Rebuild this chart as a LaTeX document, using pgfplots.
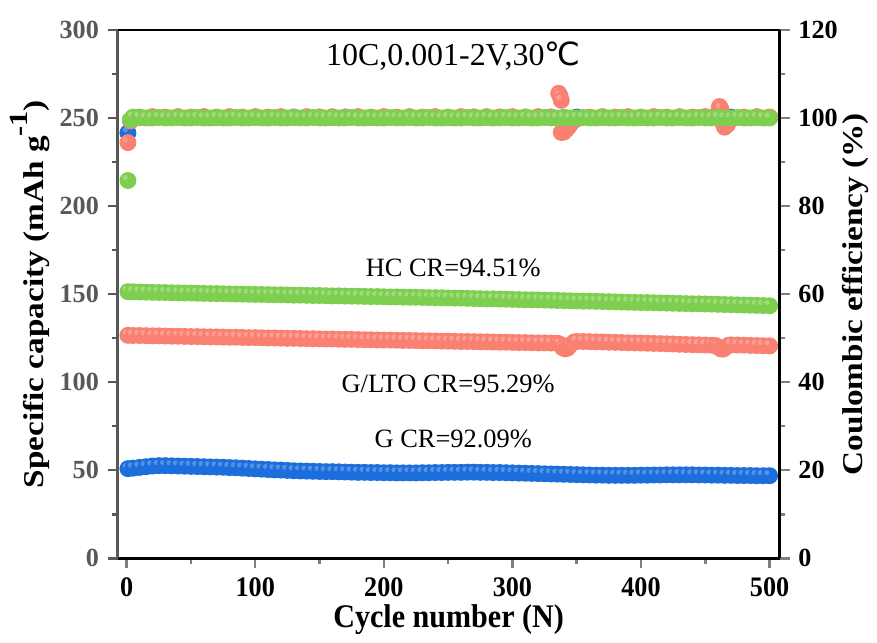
\documentclass[border=0pt]{standalone}
\usepackage{fontspec}
\setmainfont{Liberation Serif}
\newfontfamily\symfont{DejaVu Sans}
\usepackage{graphicx}
\usepackage{pgfplots}
\pgfplotsset{compat=1.18}

\definecolor{cG}{RGB}{28,110,220}
\definecolor{cLTO}{RGB}{250,128,114}
\definecolor{cHC}{RGB}{126,207,80}
\definecolor{cgrey}{RGB}{88,88,88}

% shaded-looking ball: flat disc with a soft white highlight
\pgfdeclareplotmark{ball}{%
  \pgfpathcircle{\pgfpointorigin}{\pgfplotmarksize}%
  \pgfusepathqfill
  \begin{pgfscope}
  \color{white}%
  \pgfsetfillopacity{0.25}%
  \pgfpathcircle{\pgfpoint{-0.32*\pgfplotmarksize}{0.36*\pgfplotmarksize}}{0.3*\pgfplotmarksize}%
  \pgfusepathqfill
  \end{pgfscope}
}

\begin{document}
\begin{tikzpicture}
\pgfplotsset{
  common/.style={
    scale only axis, width=265.6pt, height=212pt,
    xmin=-7, xmax=507.8, clip=false,
    tick align=outside,
    /pgf/number format/assume math mode=true,
    axis line style={line width=1pt},
    tick style={line width=1pt},
    major tick length=4pt, minor tick length=2.2pt,
    ticklabel style={font=\bfseries\fontsize{10.5}{12}\selectfont},
    label style={font=\bfseries\fontsize{11.5}{13}\selectfont},
  },
  ball/.style={only marks, mark=ball, mark size=3.4pt,
    mark options={fill=#1, draw=none}},
}

% ---------- capacity (left axis) ----------
\begin{axis}[common,
  ymin=0, ymax=300, ytick={0,50,...,300}, minor y tick num=1,
  xtick={0,100,...,500}, minor x tick num=1,
  axis x line*=bottom, axis y line*=left,
  y axis line style={cgrey}, every y tick/.append style={cgrey},
  yticklabel style={cgrey},
  xticklabel style={yscale=1.08},
  xlabel={\scalebox{1.05}[1.15]{Cycle number (N)}},
  ylabel={\scalebox{1.16}[1]{Specific capacity (mAh g\raisebox{0.55em}{\fontsize{10.5}{10}\selectfont-1})}},
  xlabel shift=-4pt, ylabel shift=-3pt,
]
% G
\addplot[ball=cG] coordinates {
 (1,50.9) (5,51.2) (10,51.6) (15,52.0) (20,52.4) (25,52.6) (30,52.6) (35,52.5)
 (40,52.4) (45,52.3) (50,52.2) (55,52.1) (60,52.0) (65,51.9) (70,51.8) (75,51.7)
 (80,51.5) (85,51.4) (90,51.2) (95,51.0) (100,50.8) (105,50.6) (110,50.4) (115,50.2)
 (120,50.1) (125,49.9) (130,49.7) (135,49.6) (140,49.5) (145,49.4) (150,49.3) (155,49.2)
 (160,49.2) (165,49.1) (170,49.0) (175,48.9) (180,48.8) (185,48.8) (190,48.7) (195,48.7)
 (200,48.6) (205,48.6) (210,48.5) (215,48.5) (220,48.5) (225,48.5) (230,48.6) (235,48.6)
 (240,48.7) (245,48.7) (250,48.8) (255,48.8) (260,48.8) (265,48.9) (270,48.9) (275,48.8)
 (280,48.8) (285,48.7) (290,48.7) (295,48.6) (300,48.5) (305,48.4) (310,48.3) (315,48.2)
 (320,48.1) (325,48.0) (330,47.9) (335,47.8) (340,47.7) (345,47.6) (350,47.5) (355,47.4)
 (360,47.3) (365,47.2) (370,47.2) (375,47.1) (380,47.1) (385,47.1) (390,47.1) (395,47.1)
 (400,47.2) (405,47.2) (410,47.3) (415,47.3) (420,47.4) (425,47.4) (430,47.4) (435,47.4)
 (440,47.4) (445,47.3) (450,47.3) (455,47.2) (460,47.2) (465,47.1) (470,47.1) (475,47.0)
 (480,47.0) (485,47.0) (490,46.9) (495,46.9) (500,46.9)
};
% G/LTO
\addplot[ball=cLTO] coordinates {
 (1,126.6) (5,126.5) (10,126.5) (15,126.4) (20,126.3) (25,126.3) (30,126.2) (35,126.1)
 (40,126.1) (45,126.0) (50,125.9) (55,125.9) (60,125.8) (65,125.7) (70,125.7) (75,125.6)
 (80,125.5) (85,125.5) (90,125.4) (95,125.3) (100,125.3) (105,125.2) (110,125.1) (115,125.1)
 (120,125.0) (125,124.9) (130,124.9) (135,124.8) (140,124.7) (145,124.7) (150,124.6) (155,124.5)
 (160,124.5) (165,124.4) (170,124.3) (175,124.3) (180,124.2) (185,124.1) (190,124.1) (195,124.0)
 (200,123.9) (205,123.9) (210,123.8) (215,123.7) (220,123.7) (225,123.6) (230,123.5) (235,123.5)
 (240,123.4) (245,123.3) (250,123.3) (255,123.2) (260,123.1) (265,123.1) (270,123.0) (275,122.9)
 (280,122.9) (285,122.8) (290,122.7) (295,122.7) (300,122.6) (305,122.5) (310,122.5) (315,122.4)
 (320,122.3) (325,122.3) (330,122.2) (335,122.1) (337,121.5) (339,119.6) (341,118.9) (343,119.4)
 (345,121.2) (348,122.8) (350,123.1) (355,123.1) (360,123.0) (365,122.9) (370,122.8) (375,122.7)
 (380,122.6) (385,122.5) (390,122.4) (395,122.3) (400,122.2) (405,122.1) (410,122.0) (415,121.9)
 (420,121.8) (425,121.7) (430,121.5) (435,121.4) (440,121.3) (445,121.2) (450,121.1) (455,121.0)
 (458,120.8) (460,119.9) (462,118.9) (464,118.8) (466,119.9) (468,120.9) (470,121.2) (475,121.1)
 (480,121.0) (485,120.9) (490,120.8) (495,120.7) (500,120.6)
};
% HC
\addplot[ball=cHC] coordinates {
 (1,151.4) (5,151.3) (10,151.2) (15,151.1) (20,151.0) (25,150.9) (30,150.9) (35,150.8)
 (40,150.7) (45,150.6) (50,150.6) (55,150.5) (60,150.4) (65,150.3) (70,150.3) (75,150.2)
 (80,150.1) (85,150.0) (90,150.0) (95,149.9) (100,149.8) (105,149.8) (110,149.7) (115,149.6)
 (120,149.6) (125,149.5) (130,149.4) (135,149.4) (140,149.3) (145,149.2) (150,149.2) (155,149.1)
 (160,149.0) (165,149.0) (170,148.9) (175,148.8) (180,148.8) (185,148.7) (190,148.6) (195,148.6)
 (200,148.5) (205,148.4) (210,148.4) (215,148.3) (220,148.2) (225,148.2) (230,148.1) (235,148.0)
 (240,148.0) (245,147.9) (250,147.8) (255,147.7) (260,147.7) (265,147.6) (270,147.5) (275,147.4)
 (280,147.3) (285,147.3) (290,147.2) (295,147.1) (300,147.0) (305,146.9) (310,146.8) (315,146.8)
 (320,146.7) (325,146.6) (330,146.5) (335,146.4) (340,146.3) (345,146.2) (350,146.1) (355,146.0)
 (360,146.0) (365,145.9) (370,145.8) (375,145.7) (380,145.6) (385,145.5) (390,145.4) (395,145.3)
 (400,145.2) (405,145.2) (410,145.1) (415,145.0) (420,144.9) (425,144.8) (430,144.7) (435,144.6)
 (440,144.5) (445,144.5) (450,144.4) (455,144.3) (460,144.2) (465,144.1) (470,144.0) (475,143.9)
 (480,143.8) (485,143.7) (490,143.6) (495,143.5) (500,143.4)
};
\node[font=\fontsize{12.8}{14}\selectfont] at (axis cs:254,285) {10C,0.001-2V,30{\symfont ℃}};
\node[font=\fontsize{10.6}{13}\selectfont] at (axis cs:254,165) {HC CR=94.51\%};
\node[font=\fontsize{10.6}{13}\selectfont] at (axis cs:250,99) {G/LTO CR=95.29\%};
\node[font=\fontsize{10.6}{13}\selectfont] at (axis cs:254,68) {G CR=92.09\%};
\end{axis}

% ---------- coulombic efficiency (right axis) ----------
\begin{axis}[common,
  ymin=0, ymax=120, ytick={0,20,...,120}, minor y tick num=1,
  axis y line*=right, axis x line*=top, xtick=\empty,
  ylabel={\scalebox{1.16}[1]{Coulombic efficiency (\%)}},
  ylabel shift=-5pt,
]
% G
\addplot[ball=cG] coordinates {
 (1,96.6) (3,99.5) (10,100.1) (20,100.2) (30,100.1) (40,100.2) (50,100.1) (60,100.2)
 (70,100.1) (80,100.2) (90,100.1) (100,100.2) (110,100.1) (120,100.2) (130,100.2) (140,100.1)
 (150,100.2) (160,100.1) (170,100.2) (180,100.2) (190,100.1) (200,100.2) (210,100.1) (220,100.2)
 (230,100.1) (240,100.2) (250,100.1) (260,100.2) (270,100.2) (280,100.1) (290,100.2) (300,100.1)
 (310,100.2) (320,100.1) (330,100.2) (340,100.1) (350,100.2) (360,100.1) (370,100.2) (380,100.1)
 (390,100.2) (400,100.1) (410,100.2) (420,100.1) (430,100.2) (440,100.1) (450,100.2) (460,100.1)
 (470,100.2) (480,100.1) (490,100.2) (500,100.1)
};
% G/LTO
\addplot[ball=cLTO] coordinates {
 (1,94.4) (3,99.3) (10,100.2) (20,100.3) (30,100.2) (40,100.3) (50,100.2) (60,100.3)
 (70,100.2) (80,100.3) (90,100.2) (100,100.3) (110,100.2) (120,100.3) (130,100.2) (140,100.3)
 (150,100.2) (160,100.3) (170,100.2) (180,100.3) (190,100.2) (200,100.3) (210,100.2) (220,100.3)
 (230,100.2) (240,100.3) (250,100.2) (260,100.3) (270,100.2) (280,100.3) (290,100.2) (300,100.3)
 (310,100.2) (320,100.3) (330,100.2) (336,105.6) (337,105.0) (338,104.0)
 (338,96.7) (340,96.8) (342,97.4) (344,98.1) (346,98.9) (350,99.8)
 (360,100.2) (370,100.3) (380,100.2) (390,100.3) (400,100.2) (410,100.3) (420,100.2) (430,100.3)
 (440,100.2) (450,100.3) (458,100.6) (461,102.6) (462,102.1)
 (464,98.6) (465,97.9) (467,98.4) (470,99.6) (480,100.2) (490,100.3) (500,100.2)
};
% HC
\addplot[ball=cHC] coordinates {
 (1,85.8) (3,99.6) (5,100.2) (10,100.1) (15,100.0) (20,100.0) (25,100.1) (30,100.0) (35,100.0)
 (40,100.1) (45,100.0) (50,100.0) (55,100.1) (60,100.0) (65,100.0) (70,100.1) (75,100.0)
 (80,100.0) (85,100.1) (90,100.0) (95,100.0) (100,100.1) (105,100.0) (110,100.0) (115,100.1)
 (120,100.0) (125,100.0) (130,100.1) (135,100.0) (140,100.0) (145,100.1) (150,100.0) (155,100.0)
 (160,100.1) (165,100.0) (170,100.0) (175,100.1) (180,100.0) (185,100.0) (190,100.1) (195,100.0)
 (200,100.0) (205,100.1) (210,100.0) (215,100.0) (220,100.1) (225,100.0) (230,100.0) (235,100.1)
 (240,100.0) (245,100.0) (250,100.1) (255,100.0) (260,100.0) (265,100.1) (270,100.0) (275,100.0)
 (280,100.1) (285,100.0) (290,100.0) (295,100.1) (300,100.0) (305,100.0) (310,100.1) (315,100.0)
 (320,100.0) (325,100.1) (330,100.0) (335,100.0) (340,100.1) (345,100.0) (350,100.0) (355,100.1)
 (360,100.0) (365,100.0) (370,100.1) (375,100.0) (380,100.0) (385,100.1) (390,100.0) (395,100.0)
 (400,100.1) (405,100.0) (410,100.0) (415,100.1) (420,100.0) (425,100.0) (430,100.1) (435,100.0)
 (440,100.0) (445,100.1) (450,100.0) (455,100.0) (460,100.1) (465,100.0) (470,100.0) (475,100.1)
 (480,100.0) (485,100.0) (490,100.1) (495,100.0) (500,100.0)
};
\end{axis}
\path (-47.2pt,-31.6pt) rectangle (303.6pt,224pt);
\end{tikzpicture}
\end{document}
